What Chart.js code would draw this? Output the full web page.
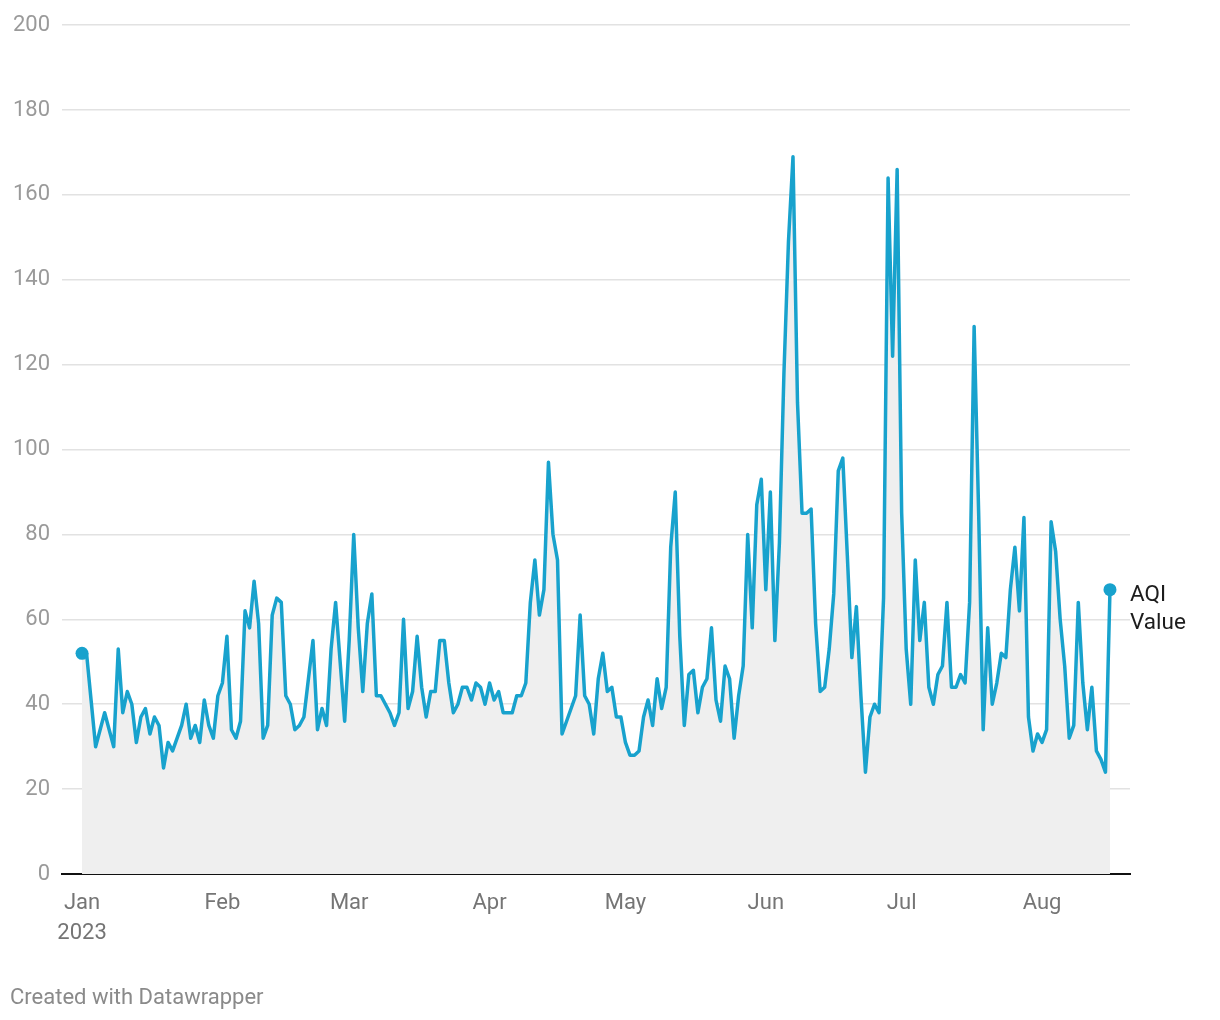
<!DOCTYPE html>
<html>
<head>
<meta charset="utf-8">
<script src="https://cdn.jsdelivr.net/npm/chart.js@4.4.1/dist/chart.umd.min.js"></script>
<style>
  html, body { margin: 0; padding: 0; background: #fff; }
  #wrap { position: relative; width: 1220px; height: 1020px; }
  #credit {
    position: absolute; left: 10px; top: 984px;
    font-family: Roboto, sans-serif; font-size: 22px; line-height: 26px; color: #8a8a8a;
  }
</style>
</head>
<body>
<div id="wrap">
  <canvas id="chart" width="1220" height="1020"></canvas>
  <div id="credit">Created with Datawrapper</div>
</div>
<script>
// daily AQI, 1 Jan 2023 .. 16 Aug 2023 (index = day of year - 1)
const seriesLabel = ['AQI', 'Value'];
const monthLabels = ['Jan', 'Feb', 'Mar', 'Apr', 'May', 'Jun', 'Jul', 'Aug'];
const monthStartDays = [0, 31, 59, 90, 120, 151, 181, 212];
const yearLabel = '2023';

const janValues = [52, 52, 41, 30, 34, 38, 34, 30, 53, 38, 43, 40, 31, 37, 39, 33, 37, 35, 25, 31,
  29, 32, 35, 40, 32, 35, 31, 41, 35, 32, 42];
const febValues = [45, 56, 34, 32, 36, 62, 58, 69, 59, 32, 35, 61, 65, 64, 42, 40, 34, 35, 37, 46,
  55, 34, 39, 35, 53, 64, 50, 36];
const marValues = [55, 80, 58, 43, 59, 66, 42, 42, 40, 38, 35, 38, 60, 39, 43, 56, 44, 37, 43, 43,
  55, 55, 45, 38, 40, 44, 44, 41, 45, 44, 40];
const aprValues = [45, 41, 43, 38, 38, 38, 42, 42, 45, 64, 74, 61, 67, 97, 80, 74, 33, 36, 39, 42,
  61, 42, 40, 33, 46, 52, 43, 44, 37, 37];
const mayValues = [31, 28, 28, 29, 37, 41, 35, 46, 39, 44, 77, 90, 56, 35, 47, 48, 38, 44, 46, 58,
  41, 36, 49, 46, 32, 42, 49, 80, 58, 87, 93];
const junValues = [67, 90, 55, 78, 118, 149, 169, 111, 85, 85, 86, 59, 43, 44, 53, 66, 95, 98, 75, 51,
  63, 42, 24, 37, 40, 38, 65, 164, 122, 166];
const julValues = [85, 53, 40, 74, 55, 64, 44, 40, 47, 49, 64, 44, 44, 47, 45, 64, 129, 85, 34, 58,
  40, 45, 52, 51, 67, 77, 62, 84, 37, 29, 33];
const augValues = [31, 34, 83, 76, 60, 49, 32, 35, 64, 45, 34, 44, 29, 27, 24, 67];

const yTickValues = [0, 20, 40, 60, 80, 100, 120, 140, 160, 180, 200];

const aqiValues = [].concat(janValues, febValues, marValues, aprValues, mayValues, junValues, julValues, augValues);
const points = aqiValues.map((v, i) => ({ x: i, y: v }));
const lastIndex = aqiValues.length - 1;

const lineColor = '#18a2cd';

const endLabel = {
  id: 'endLabel',
  afterDatasetsDraw(chart) {
    const pt = chart.getDatasetMeta(0).data[lastIndex];
    const ctx = chart.ctx;
    ctx.save();
    ctx.font = '22.5px Roboto';
    ctx.fillStyle = '#1d1d1d';
    ctx.textAlign = 'left';
    ctx.textBaseline = 'middle';
    seriesLabel.forEach((t, i) => ctx.fillText(t, pt.x + 20, pt.y + 6 + i * 28));
    ctx.restore();
  }
};

new Chart(document.getElementById('chart'), {
  type: 'line',
  data: {
    datasets: [{
      label: seriesLabel.join(' '),
      data: points,
      borderColor: lineColor,
      borderWidth: 3.5,
      backgroundColor: '#efefef',
      fill: 'origin',
      tension: 0,
      borderJoinStyle: 'round',
      pointRadius: ctx => (ctx.dataIndex === 0 || ctx.dataIndex === lastIndex) ? 6.5 : 0,
      pointBackgroundColor: lineColor,
      pointBorderWidth: 0,
      pointHoverRadius: 0
    }]
  },
  options: {
    responsive: false,
    devicePixelRatio: 1,
    animation: false,
    layout: { padding: { top: 23, right: 90, bottom: 0, left: 0 } },
    plugins: { legend: { display: false }, tooltip: { enabled: false } },
    scales: {
      x: {
        type: 'linear',
        min: -4.42,
        max: lastIndex + 4.42,
        afterBuildTicks: axis => { axis.ticks = monthStartDays.map(v => ({ value: v })); },
        afterFit: axis => { axis.height = 146; },
        grid: { display: false },
        border: { display: true, color: '#111', width: 2 },
        ticks: {
          autoSkip: false,
          maxRotation: 0,
          padding: 7,
          color: '#757575',
          font: { family: 'Roboto', size: 22, lineHeight: 1.36 },
          callback: (value, index) => index === 0 ? [monthLabels[0], yearLabel] : monthLabels[index]
        }
      },
      y: {
        min: 0,
        max: 200,
        afterBuildTicks: axis => { axis.ticks = yTickValues.map(v => ({ value: v })); },
        afterFit: axis => { axis.width = 62; },
        border: { display: false },
        grid: {
          drawTicks: false,
          lineWidth: 1.5,
          color: c => c.tick && c.tick.value === 0 ? 'rgba(0,0,0,0)' : '#e2e2e2'
        },
        ticks: { padding: 12, color: '#9a9a9a', font: { family: 'Roboto', size: 22 } }
      }
    }
  },
  plugins: [endLabel]
});
</script>
</body>
</html>
